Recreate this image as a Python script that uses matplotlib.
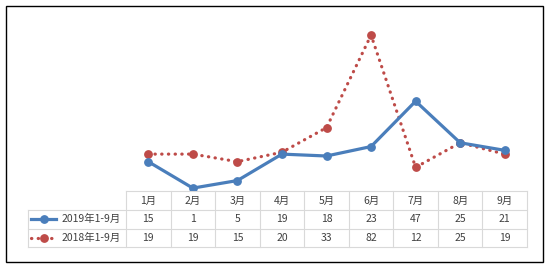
import matplotlib.pyplot as plt
from matplotlib.lines import Line2D
from matplotlib.patches import Rectangle
from matplotlib.transforms import blended_transform_factory

plt.rcParams['font.family'] = ['Noto Sans CJK SC', 'DejaVu Sans']

months = ['1月', '2月', '3月', '4月', '5月', '6月', '7月', '8月', '9月']
series_names = ['2019年1-9月', '2018年1-9月']
vals_2019 = [15, 1, 5, 19, 18, 23, 47, 25, 21]
vals_2018 = [19, 19, 15, 20, 33, 82, 12, 25, 19]

W, H = 547, 268
blue = '#4A7EBB'
red = '#BE4B48'
grid = '#D9D9D9'
txt = '#404040'


def fx(px):
    return px / W


def fy(py):
    return 1 - py / H


fig = plt.figure(figsize=(W / 100, H / 100), dpi=100)

# chart area frame
fig.add_artist(Rectangle((fx(6), fy(262)), fx(537), 256 / H, transform=fig.transFigure,
                         fill=False, edgecolor='black', linewidth=1))

# plot area (category axis aligned with the table columns)
left, right, top, bottom = 126, 527, 20, 190
ax = fig.add_axes([fx(left), fy(bottom), fx(right - left), (bottom - top) / H])
ax.set_xlim(-0.5, len(months) - 0.5)
ax.set_ylim(0, 90)
ax.axis('off')

dotted = dict(linestyle=(0, (0.1, 2.0)), dash_capstyle='round')
x = range(len(months))
ax.plot(x, vals_2019, color=blue, linewidth=2.3, marker='o', markersize=5.3, zorder=3)
ax.plot(x, vals_2018, color=red, linewidth=2.3, marker='o', markersize=5.3, zorder=2, **dotted)

# data table
tr = blended_transform_factory(ax.transData, fig.transFigure)
row_top = [191, 210, 228.5]
row_bot = [210, 228.5, 247]
label_left = 28


def hline(x0, x1, y):
    fig.add_artist(Line2D([fx(x0), fx(x1)], [fy(y), fy(y)], transform=fig.transFigure,
                          color=grid, linewidth=0.8))


hline(left, right, row_top[0])
for yb in row_bot:
    hline(label_left, right, yb)
for i in range(len(months) + 1):
    fig.add_artist(Line2D([i - 0.5, i - 0.5], [fy(row_top[0]), fy(row_bot[-1])], transform=tr,
                          color=grid, linewidth=0.8))
fig.add_artist(Line2D([fx(label_left), fx(label_left)], [fy(row_top[1]), fy(row_bot[-1])],
                      transform=fig.transFigure, color=grid, linewidth=0.8))

rows = [vals_2019, vals_2018]
for i, m in enumerate(months):
    fig.text(i, fy((row_top[0] + row_bot[0]) / 2), m, transform=tr, ha='center', va='center',
             fontsize=7.5, color=txt)
    for r, vals in enumerate(rows):
        yc = fy((row_top[r + 1] + row_bot[r + 1]) / 2)
        fig.text(i, yc, str(vals[i]), transform=tr, ha='center', va='center',
                 fontsize=7.5, color=txt)

# row labels with legend keys
styles = [dict(color=blue, linewidth=2.3), dict(color=red, linewidth=2.3, **dotted)]
for r, name in enumerate(series_names):
    yc = fy((row_top[r + 1] + row_bot[r + 1]) / 2)
    fig.add_artist(Line2D([fx(31), fx(56)], [yc, yc], transform=fig.transFigure, **styles[r]))
    fig.add_artist(Line2D([fx(43.5)], [yc], transform=fig.transFigure, marker='o',
                          markersize=5.3, color=styles[r]['color'], linestyle='none'))
    fig.text(fx(121), yc, name, ha='right', va='center', fontsize=7.5, color=txt)

fig.savefig('out.png', dpi=100)
